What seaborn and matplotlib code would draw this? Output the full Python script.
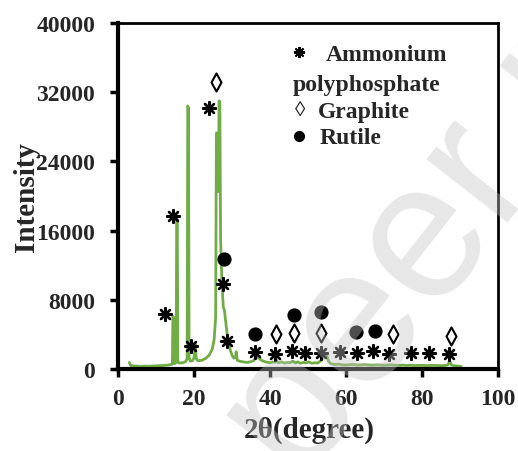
import matplotlib
matplotlib.use("Agg")
import matplotlib.pyplot as plt
import seaborn as sns
import pandas as pd
from matplotlib.path import Path

sns.set_theme(style="white")
plt.rcParams["font.family"] = ["Liberation Serif", "DejaVu Serif"]
plt.rcParams["font.weight"] = "bold"

# XRD trace: 2-theta (deg) and counts
two_theta = [3.0, 3.3, 4.0, 5.0, 6.0, 7.0, 8.0, 9.0, 10.0, 11.0, 12.0, 13.0, 13.8, 14.3,
             14.45, 14.6, 14.75, 15.0, 15.3, 15.45, 15.6, 15.75, 16.2, 17.0, 17.8, 18.2,
             18.35, 18.55, 18.7, 19.0, 19.6, 20.0, 20.3, 20.6, 21.0, 22.0, 23.0, 24.0,
             24.8, 25.3, 25.7, 25.9, 26.05, 26.25, 26.45, 26.6, 26.8, 27.0, 27.3, 27.7,
             28.0, 28.4, 28.8, 29.2, 29.6, 30.0, 30.5, 30.9, 31.1, 31.4, 32.0, 33.0,
             34.0, 35.0, 35.8, 36.3, 36.8, 37.3, 38.0, 38.6, 39.2, 40.0, 40.7, 41.3,
             41.6, 42.2, 43.0, 43.8, 44.5, 45.2, 46.0, 46.7, 47.3, 48.0, 48.8, 49.5,
             50.2, 51.0, 51.8, 52.5, 53.2, 53.8, 54.2, 54.6, 55.0, 55.4, 56.0, 57.0,
             58.0, 59.0, 60.0, 61.0, 62.0, 63.0, 64.0, 65.0, 66.0, 67.0, 68.0, 69.0,
             70.0, 71.0, 72.0, 73.0, 74.0, 75.0, 76.0, 77.0, 78.0, 79.0, 80.0, 81.0,
             82.0, 83.0, 84.0, 85.0, 86.0, 86.8, 87.3, 87.8, 88.4, 89.0, 89.6, 90.3]
intensity = [750, 420, 360, 330, 310, 330, 320, 350, 370, 390, 410, 450, 500, 560,
             6100, 5900, 650, 620, 850, 17400, 17200, 750, 700, 720, 850, 1200,
             30400, 30200, 1400, 900, 950, 1300, 2900, 1200, 950, 1000, 1200, 1600,
             2300, 3400, 6000, 27300, 27100, 20500, 24000, 31000, 30800, 15000, 10500, 7200,
             6800, 5200, 3700, 2900, 2100, 1600, 1250, 1300, 2000, 1000, 900, 820,
             760, 850, 1000, 1500, 1350, 1150, 950, 850, 780, 720, 800, 760,
             1050, 700, 820, 680, 760, 720, 900, 700, 820, 660, 760, 700,
             820, 660, 720, 680, 900, 1200, 1900, 1800, 1500, 900, 600, 520,
             560, 480, 460, 500, 520, 450, 480, 500, 460, 440, 470, 450,
             430, 460, 480, 430, 420, 450, 410, 440, 400, 420, 430, 400,
             410, 420, 400, 390, 400, 480, 900, 450, 380, 360, 330, 300]

# Phase markers (2-theta position, label height)
apv_x = [12.3, 14.4, 23.9, 19.2, 27.6, 28.6, 36.0, 41.2, 45.7, 49.3, 53.3,
         58.3, 63.0, 67.2, 71.4, 77.2, 81.9, 87.1]
apv_y = [6400, 17700, 30200, 2700, 9800, 3200, 2000, 1700, 2100, 1850, 1900,
         1950, 1900, 2100, 1700, 1800, 1850, 1700]
gra_x = [25.7, 41.7, 46.2, 53.5, 72.4, 87.7]
gra_y = [33200, 4050, 4150, 4150, 4050, 3800]
rut_x = [27.8, 36.0, 46.2, 53.5, 62.5, 67.5]
rut_y = [12700, 4000, 6250, 6600, 4250, 4400]

x_ticks = [0, 20, 40, 60, 80, 100]
y_ticks = [0, 8000, 16000, 24000, 32000, 40000]

df = pd.DataFrame({"two_theta": two_theta, "intensity": intensity})

fig = plt.figure(figsize=(5.18, 4.52), dpi=100)
ax = fig.add_axes([118 / 518, 1 - 370 / 452, 380 / 518, 346 / 452])

sns.lineplot(data=df, x="two_theta", y="intensity", ax=ax, color="#70AD47",
             linewidth=2.0, zorder=2)

ax.scatter(apv_x, apv_y, marker=(8, 2, 0), s=85, color="black", linewidths=1.7, zorder=3)
lozenge = Path([(0, 1), (0.55, 0), (0, -1), (-0.55, 0), (0, 1)],
               [Path.MOVETO, Path.LINETO, Path.LINETO, Path.LINETO, Path.CLOSEPOLY])
ax.scatter(gra_x, gra_y, marker=lozenge, s=170, facecolor="white", edgecolor="black",
           linewidths=1.5, zorder=3)
ax.scatter(rut_x, rut_y, marker="o", s=85, color="black", zorder=3)

ax.set_xlim(0, 100)
ax.set_ylim(0, 40000)
ax.set_xticks(x_ticks)
ax.set_yticks(y_ticks)
ax.set_xticklabels([str(v) for v in x_ticks])
ax.set_yticklabels([str(v) for v in y_ticks])
ax.tick_params(axis="both", direction="out", length=6, width=2.5, labelsize=17,
               color="black", bottom=True, left=True)
ax.tick_params(axis="x", pad=8)
ax.tick_params(axis="y", pad=10.5)
for lab in ax.get_xticklabels() + ax.get_yticklabels():
    lab.set_fontweight("bold")
for side in ["left", "bottom", "right", "top"]:
    ax.spines[side].set_visible(True)
    ax.spines[side].set_color("black")
ax.spines["left"].set_linewidth(3)
ax.spines["bottom"].set_linewidth(3)
ax.spines["right"].set_linewidth(2)
ax.spines["top"].set_linewidth(2)

ax.set_xlabel("2θ(degree)", fontsize=21, fontweight="bold")
ax.set_ylabel("Intensity", fontsize=21, fontweight="bold")
ax.xaxis.set_label_coords(0.503, -0.135)
ax.yaxis.set_label_coords(-0.205, 0.5)

# Key for the phase symbols
ax.plot([0.476], [0.915], transform=ax.transAxes, marker=(8, 2, 0), ms=8,
        color="black", mew=1.4, zorder=4)
ax.text(0.548, 0.91, "Ammonium", transform=ax.transAxes, fontsize=17,
        fontweight="bold", va="center", ha="left")
ax.text(0.461, 0.823, "polyphosphate", transform=ax.transAxes, fontsize=17,
        fontweight="bold", va="center", ha="left")
ax.text(0.466, 0.748, "◊", transform=ax.transAxes, fontsize=15,
        fontweight="normal", va="center", ha="left")
ax.text(0.526, 0.745, "Graphite", transform=ax.transAxes, fontsize=17,
        fontweight="bold", va="center", ha="left")
ax.plot([0.477], [0.672], transform=ax.transAxes, marker="o", ms=7,
        color="black", zorder=4)
ax.text(0.531, 0.67, "Rutile", transform=ax.transAxes, fontsize=17,
        fontweight="bold", va="center", ha="left")

# Diagonal review stamp across the figure
fig.text(300 / 518, 1 - 488 / 452, "peer review", fontsize=140,
         family="Liberation Sans", fontweight="normal", color="#c4c4c4", alpha=0.4,
         rotation=52, rotation_mode="anchor", ha="left", va="baseline", zorder=10)

fig.savefig("out.png", dpi=100)
